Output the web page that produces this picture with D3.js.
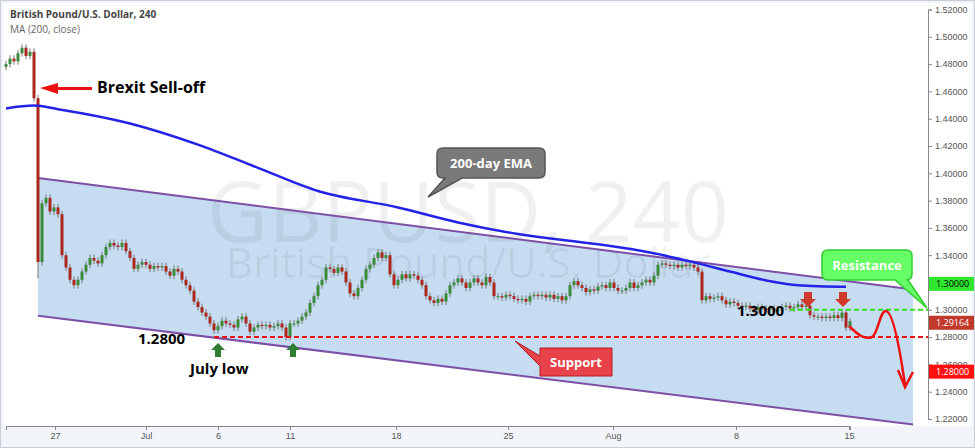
<!DOCTYPE html>
<html><head><meta charset="utf-8">
<script src="https://cdn.jsdelivr.net/npm/d3@7"></script>
<style>body{margin:0;background:#fff}svg{font-family:"Open Sans",sans-serif}</style>
</head><body><svg width="975" height="448"></svg>
<script>
// 4h closes, GBP/USD
const closes = [1.480,1.484,1.482,1.488,1.492,1.486,1.489,1.455,1.335,1.378,1.382,1.372,1.375,1.370,
1.340,1.331,1.322,1.318,1.322,1.328,1.333,1.338,1.336,1.334,1.340,1.346,1.349,1.347,1.346,1.349,1.343,1.338,
1.330,1.333,1.335,1.333,1.330,1.332,1.331,1.332,1.328,1.325,1.330,1.328,1.322,1.318,1.314,1.306,1.302,1.298,
1.295,1.290,1.285,1.288,1.292,1.290,1.289,1.287,1.293,1.295,1.290,1.284,1.287,1.289,1.288,1.289,1.287,1.288,
1.290,1.287,1.280,1.290,1.290,1.292,1.295,1.298,1.305,1.310,1.318,1.322,1.331,1.330,1.327,1.331,1.328,1.320,
1.312,1.310,1.316,1.322,1.330,1.333,1.338,1.342,1.338,1.340,1.326,1.318,1.322,1.326,1.323,1.326,1.325,1.322,
1.318,1.310,1.307,1.305,1.308,1.306,1.312,1.318,1.320,1.323,1.320,1.316,1.320,1.323,1.320,1.318,1.324,1.320,
1.310,1.310,1.309,1.311,1.310,1.308,1.307,1.308,1.306,1.310,1.311,1.310,1.311,1.309,1.311,1.308,1.310,1.307,
1.310,1.318,1.321,1.318,1.316,1.313,1.315,1.314,1.317,1.318,1.316,1.320,1.316,1.314,1.314,1.316,1.320,1.316,
1.318,1.320,1.322,1.320,1.325,1.333,1.334,1.333,1.332,1.333,1.331,1.333,1.332,1.333,1.331,1.328,1.307,1.310,
1.308,1.309,1.310,1.307,1.304,1.306,1.305,1.303,1.302,1.303,1.301,1.300,1.302,1.301,1.300,1.301,1.299,1.300,
1.302,1.303,1.301,1.302,1.304,1.302,1.303,1.296,1.295,1.295,1.294,1.295,1.294,1.296,1.294,1.298,1.287,1.2916];
const emaIdx = [0,7,13,31,48,63,78,98,113,128,148,161,173,181,191,198,210];
const emaVal = [1.4475,1.4496,1.4470,1.4365,1.421,1.404,1.387,1.375,1.364,1.3555,1.3480,1.3420,1.334,1.328,1.321,1.318,1.3168];
const tickIdx = [12.25,35,53,71,97.5,125.5,151.75,182.5,210.75];
const tickLbl = ["27","Jul","6","11","18","25","Aug","8","15"];
const priceTicks = d3.range(1.22,1.5201,0.02);
const channelTop = [[8,1.3966],[226.75,1.3148]];
const channelBot = [[8,1.2956],[226.75,1.216]];

const svg = d3.select("svg");
const x = d3.scaleLinear().domain([0,211]).range([6,850]);
const y = d3.scaleLinear().domain([1.22,1.52]).range([419,9.5]);

svg.append("rect").attr("x",0.5).attr("y",0.5).attr("width",974).attr("height",447).attr("fill","#f1f4f8").attr("stroke","#c9ced6");
svg.append("rect").attr("x",3).attr("y",3).attr("width",925).attr("height",423).attr("fill","#fff");
svg.append("rect").attr("x",929).attr("y",3).attr("width",43).attr("height",423).attr("fill","#fff");

// channel
svg.append("path").attr("fill","#c6dcf1")
  .attr("d",d3.line()([...channelTop,...channelBot.slice().reverse()].map(d=>[x(d[0]),y(d[1])])));

// watermark
svg.append("text").attr("x",468).attr("y",242).attr("text-anchor","middle").attr("font-size",84)
  .attr("fill","rgba(0,0,0,0.06)").text("GBPUSD, 240");
svg.append("text").attr("x",468).attr("y",278).attr("text-anchor","middle").attr("font-size",42)
  .attr("fill","rgba(0,0,0,0.06)").text("British Pound/U.S. Dollar");

[channelTop,channelBot].forEach(c=>svg.append("path").attr("fill","none").attr("stroke","#7d4fa6").attr("stroke-width",2)
  .attr("d",d3.line()(c.map(d=>[x(d[0]),y(d[1])]))));

// candles
const cw = 3;
const g = svg.append("g");
closes.forEach((c,i)=>{
  const o = i ? closes[i-1] : c - 0.002;
  const up = c >= o;
  const pad = i === 8 ? 0.012 : 0.0025;
  const hi = Math.max(o,c)+0.0025, lo = Math.min(o,c)-pad;
  g.append("line").attr("x1",x(i)).attr("x2",x(i)).attr("y1",y(hi)).attr("y2",y(lo)).attr("stroke","#777");
  g.append("rect").attr("x",x(i)-cw/2).attr("width",cw).attr("y",y(Math.max(o,c)))
    .attr("height",Math.max(1,Math.abs(y(o)-y(c)))).attr("fill",up?"#3a8a3a":"#a8281e");
});

// EMA
svg.append("path").attr("fill","none").attr("stroke","#2323e8").attr("stroke-width",2.5)
  .attr("d",d3.line().curve(d3.curveMonotoneX)(emaIdx.map((d,i)=>[x(d),y(emaVal[i])])));

// dashed levels
svg.append("line").attr("x1",x(196)).attr("x2",928).attr("y1",y(1.30)).attr("y2",y(1.30)).attr("stroke","#33dd22").attr("stroke-width",2).attr("stroke-dasharray","5,3");
svg.append("line").attr("x1",x(52)).attr("x2",928).attr("y1",y(1.28)).attr("y2",y(1.28)).attr("stroke","#ee1111").attr("stroke-width",2).attr("stroke-dasharray","5,3");

// axes
const ya = svg.append("g").attr("transform","translate(928,0)")
  .call(d3.axisRight(y).tickValues(priceTicks).tickFormat(d3.format(".5f")).tickSize(4));
ya.selectAll("text").attr("font-size",9).attr("fill","#555");
ya.selectAll("line,path").attr("stroke","#888");
const xa = svg.append("g").attr("transform","translate(0,426)")
  .call(d3.axisBottom(x).tickValues(tickIdx).tickFormat((d,i)=>tickLbl[i]).tickSize(4));
xa.selectAll("text").attr("font-size",9).attr("fill","#555");
xa.selectAll("line,path").attr("stroke","#888");

// price tags
[[1.3190,"1.30000","#2ee62e","#000"],[1.2905,"1.29164","#c0392b","#fff"],[1.2547,"1.28000","#ff1010","#fff"]].forEach(t=>{
  svg.append("rect").attr("x",929).attr("y",y(t[0])-7).attr("width",45).attr("height",14).attr("fill",t[2]);
  svg.append("text").attr("x",936).attr("y",y(t[0])+3.5).attr("font-size",9).attr("fill",t[3]).text(t[1]);
});

// titles
svg.append("text").attr("x",10).attr("y",18).attr("font-size",10).attr("font-weight","bold").attr("fill","#444").text("British Pound/U.S. Dollar, 240");
svg.append("text").attr("x",10).attr("y",33).attr("font-size",10).attr("fill","#666").text("MA (200, close)");

// Brexit arrow
svg.append("path").attr("d","M92,87 L58,87 L58,83 L40,88 L58,94 L58,90 L92,90Z").attr("fill","#ee1111");
svg.append("text").attr("x",97).attr("y",93).attr("font-size",16).attr("font-weight","bold").text("Brexit Sell-off");

// callouts
function callout(bx,by,bw,bh,tip,base,fill,stroke,label,col){
  svg.append("path").attr("d",`M${bx+6},${by} H${bx+bw-6} Q${bx+bw},${by} ${bx+bw},${by+6} V${by+bh-6} Q${bx+bw},${by+bh} ${bx+bw-6},${by+bh} H${base[1]} L${tip[0]},${tip[1]} L${base[0]},${by+bh} H${bx+6} Q${bx},${by+bh} ${bx},${by+bh-6} V${by+6} Q${bx},${by} ${bx+6},${by}Z`)
    .attr("fill",fill).attr("stroke",stroke).attr("stroke-width",1.5);
  svg.append("text").attr("x",bx+bw/2).attr("y",by+bh/2+5).attr("text-anchor","middle").attr("font-size",13)
    .attr("font-weight","bold").attr("fill",col).text(label);
}
callout(437,148,108,30,[428,197],[445,462],"#7a7a7a","#555","200-day EMA","#fff");
svg.append("path").attr("d","M540,348 H612 V376 H540 V366 L515,341 L540,356Z").attr("fill","#e8424a").attr("stroke","#b02028");
svg.append("text").attr("x",576).attr("y",367).attr("text-anchor","middle").attr("font-size",13).attr("font-weight","bold").attr("fill","#fff").text("Support");
callout(822,250,90,30,[927,308],[895,908],"#66ff66","#33cc33","Resistance","#fff");

// labels
svg.append("text").attr("x",138).attr("y",344).attr("font-size",15).attr("font-weight","bold").text("1.2800");
svg.append("text").attr("x",190).attr("y",374).attr("font-size",15).attr("font-weight","bold").text("July low");
svg.append("text").attr("x",737).attr("y",316).attr("font-size",15).attr("font-weight","bold").text("1.3000");
[218,293].forEach(cx=>svg.append("path").attr("d",`M${cx},343 L${cx+7},350 L${cx+3},350 L${cx+3},357 L${cx-3},357 L${cx-3},350 L${cx-7},350Z`).attr("fill","#2e7d32"));
[808,843].forEach(cx=>svg.append("path").attr("d",`M${cx-4},292 L${cx+4},292 L${cx+4},299 L${cx+8},299 L${cx},307 L${cx-8},299 L${cx-4},299Z`).attr("fill","#d03a2a"));

// projected move
svg.append("path").attr("fill","none").attr("stroke","#ee1111").attr("stroke-width",2.5)
  .attr("d","M849,326 C858,335 865,340 872,337 C878,334 880,310 886,311 C893,312 900,350 905,385");
svg.append("path").attr("fill","none").attr("stroke","#ee1111").attr("stroke-width",2.5).attr("d","M898,370 L905,387 L913,372");
</script></body></html>
